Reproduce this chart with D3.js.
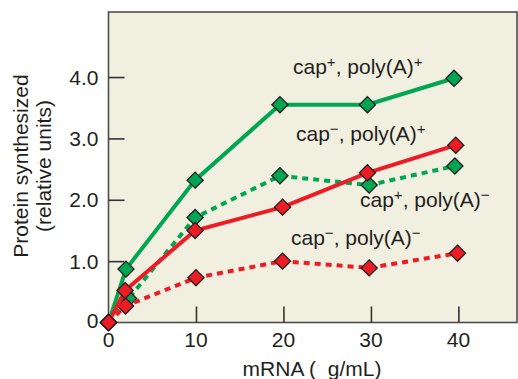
<!DOCTYPE html>
<html>
<head>
<meta charset="utf-8">
<script src="https://cdn.jsdelivr.net/npm/d3@7"></script>
<style>
  html, body { margin: 0; padding: 0; background: #ffffff; }
  svg { display: block; font-family: "Liberation Sans", Arial, sans-serif; }
</style>
</head>
<body>
<svg id="chart" width="518" height="379"></svg>
<script>
// ---- data ----
const xTicks = [0, 10, 20, 30, 40];
const xTickLabels = ["0", "10", "20", "30", "40"];
const yTicks = [0, 1, 2, 3, 4];
const yTickLabels = ["0", "1.0", "2.0", "3.0", "4.0"];

const capPlusPolyPlusX = [0, 2, 9.9, 19.6, 29.6, 39.5];
const capPlusPolyPlusY = [0, 0.87, 2.32, 3.55, 3.55, 3.98];

const capPlusPolyMinusX = [0, 2.3, 9.9, 19.6, 29.8, 39.6];
const capPlusPolyMinusY = [0, 0.39, 1.71, 2.39, 2.24, 2.55];

const capMinusPolyPlusX = [0, 1.9, 9.9, 19.9, 29.6, 39.7];
const capMinusPolyPlusY = [0, 0.52, 1.50, 1.88, 2.44, 2.89];

const capMinusPolyMinusX = [0, 1.95, 10.0, 19.9, 29.8, 39.9];
const capMinusPolyMinusY = [0, 0.27, 0.73, 1.00, 0.89, 1.13];

const seriesNames = ["cap+, poly(A)-", "cap-, poly(A)-", "cap+, poly(A)+", "cap-, poly(A)+"];

const xTitle = "mRNA (\u00a0\u00a0g/mL)";
const yTitle1 = "Protein synthesized";
const yTitle2 = "(relative units)";

// ---- layout ----
const svg = d3.select("#chart");
const L = 108.5, R = 517, T = 12, B = 322.5;
const x = d3.scaleLinear().domain([0, 46.7]).range([L, R]);
const y = d3.scaleLinear().domain([0, 5.06]).range([B, T]);

const GREEN = "#00a651", RED = "#ed1c24", TXT = "#231f20";
const FS = 21;

svg.append("rect").attr("x", L).attr("y", T).attr("width", R - L).attr("height", B - T)
  .attr("fill", "#f1efe0").attr("stroke", "#4d4d4d").attr("stroke-width", 1.6);

// x axis ticks (inward)
const xAxis = d3.axisBottom(x).tickValues(xTicks.filter(v => v > 0)).tickSize(-16).tickFormat("");
svg.append("g").attr("transform", `translate(0,${B})`).call(xAxis)
  .call(g => g.select(".domain").remove())
  .call(g => g.selectAll("line").attr("stroke", "#333").attr("stroke-width", 1.6));
svg.append("g").selectAll("text").data(xTicks).join("text")
  .attr("x", d => x(d)).attr("y", 346.5).attr("text-anchor", "middle")
  .attr("font-size", FS).attr("fill", TXT)
  .text((d, i) => xTickLabels[i]);

// y axis ticks (inward)
const yAxis = d3.axisLeft(y).tickValues(yTicks.filter(v => v > 0)).tickSize(-16).tickFormat("");
svg.append("g").attr("transform", `translate(${L},0)`).call(yAxis)
  .call(g => g.select(".domain").remove())
  .call(g => g.selectAll("line").attr("stroke", "#333").attr("stroke-width", 1.6));
svg.append("g").selectAll("text").data(yTicks).join("text")
  .attr("x", 98.5).attr("y", d => y(d) + (d === 0 ? -2 : 0)).attr("dy", "0.36em").attr("text-anchor", "end")
  .attr("font-size", FS).attr("fill", TXT)
  .text((d, i) => yTickLabels[i]);

// titles
svg.append("text").attr("x", 312).attr("y", 376).attr("text-anchor", "middle")
  .attr("font-size", FS).attr("fill", TXT).style("white-space", "pre").text(xTitle);
const yt = svg.append("text").attr("transform", "translate(28,166) rotate(-90)")
  .attr("text-anchor", "middle").attr("font-size", FS).attr("fill", TXT);
yt.append("tspan").attr("x", 0).attr("y", 0).text(yTitle1);
yt.append("tspan").attr("x", 0).attr("y", 22.5).text(yTitle2);

// series
const series = [
  { xs: capPlusPolyMinusX, ys: capPlusPolyMinusY, color: GREEN, dash: "6,5" },
  { xs: capMinusPolyMinusX, ys: capMinusPolyMinusY, color: RED, dash: "6,5" },
  { xs: capPlusPolyPlusX, ys: capPlusPolyPlusY, color: GREEN, dash: null },
  { xs: capMinusPolyPlusX, ys: capMinusPolyPlusY, color: RED, dash: null }
];
const line = d3.line().x(d => x(d[0])).y(d => y(d[1]));
const diamond = d3.symbol().type(d3.symbolSquare).size(130);

series.forEach(s => {
  const pts = s.xs.map((v, i) => [v, s.ys[i]]);
  svg.append("path").datum(pts).attr("d", line).attr("fill", "none")
    .attr("stroke", s.color).attr("stroke-width", 4)
    .attr("stroke-dasharray", s.dash);
  svg.append("g").selectAll("path").data(pts).join("path")
    .attr("d", diamond)
    .attr("transform", d => `translate(${x(d[0])},${y(d[1])}) rotate(45)`)
    .attr("fill", s.color).attr("stroke", "#231f20").attr("stroke-width", 1.3);
});

// labels
const labels = [
  { x: 293, y: 74, a: "+", b: "+" },
  { x: 296, y: 141, a: "\u2212", b: "+" },
  { x: 360, y: 207, a: "+", b: "\u2212" },
  { x: 291, y: 245, a: "\u2212", b: "\u2212" }
];
labels.forEach(l => {
  const t = svg.append("text").attr("x", l.x).attr("y", l.y).attr("font-size", FS).attr("fill", TXT);
  t.append("tspan").text("cap");
  t.append("tspan").attr("font-size", 15).attr("dy", -7).text(l.a);
  t.append("tspan").attr("dy", 7).text(", poly(A)");
  t.append("tspan").attr("font-size", 15).attr("dy", -7).text(l.b);
});
</script>
</body>
</html>
